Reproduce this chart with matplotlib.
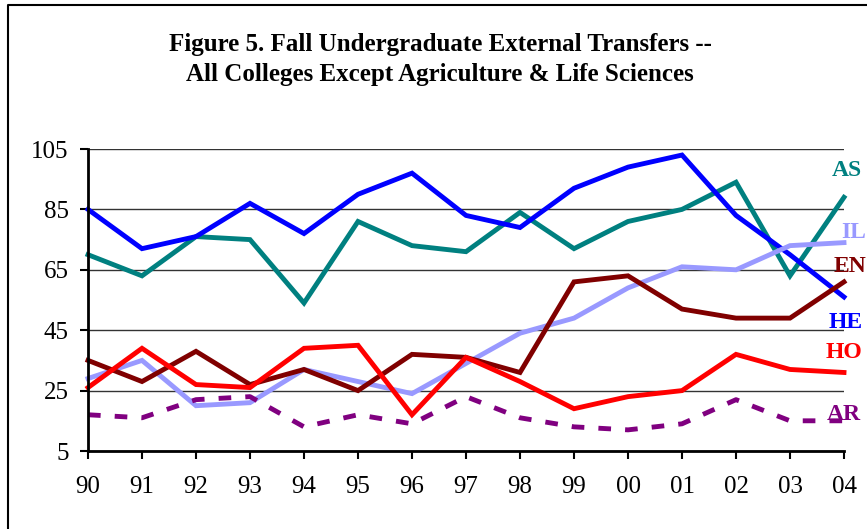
import matplotlib.pyplot as plt
from matplotlib.lines import Line2D

# Lata (etykiety osi X) i liczby przeniesień dla poszczególnych wydziałów.
LATA = ['90', '91', '92', '93', '94', '95', '96', '97', '98', '99',
        '00', '01', '02', '03', '04']
HE = [85, 72, 76, 87, 77, 90, 97, 83, 79, 92, 99, 103, 83, 70, 56]
AS = [70, 63, 76, 75, 54, 81, 73, 71, 84, 72, 81, 85, 94, 63, 89]
IL = [29, 35, 20, 21, 32, 28, 24, 34, 44, 49, 59, 66, 65, 73, 74]
EN = [35, 28, 38, 27, 32, 25, 37, 36, 31, 61, 63, 52, 49, 49, 61]
HO = [26, 39, 27, 26, 39, 40, 17, 36, 28, 19, 23, 25, 37, 32, 31]
AR = [17, 16, 22, 23, 13, 17, 14, 23, 16, 13, 12, 14, 22, 15, 15]

plt.rcParams['font.family'] = ['Liberation Serif', 'DejaVu Serif']

W, H = 867, 529
fig = plt.figure(figsize=(W / 100, H / 100), dpi=100)
ax = fig.add_axes([88 / W, 1 - 451 / H, (844 - 88) / W, (451 - 149) / H])

x = list(range(len(LATA)))
serie = [
    (AS, '#008080', '-', 'AS', 832, 170),
    (HE, '#0000FF', '-', 'HE', 829, 322),
    (IL, '#9999FF', '-', 'IL', 841, 232),
    (EN, '#800000', '-', 'EN', 834, 267),
    (HO, '#FF0000', '-', 'HO', 826, 352),
    (AR, '#800080', (0, (2.6, 2.9)), 'AR', 827, 415),
]
for wartości, kolor, styl, nazwa, px, py in serie:
    ax.plot(x, wartości, color=kolor, linestyle=styl, linewidth=3.5,
            solid_joinstyle='miter', clip_on=False)
    fig.text(px / W, 1 - py / H, nazwa, color=kolor, fontsize=17,
             fontweight='bold', ha='left', va='center')

ax.set_xlim(0, len(LATA) - 1)
ax.set_ylim(5, 105)
ax.set_yticks([5, 25, 45, 65, 85, 105])
ax.set_xticks(x)
ax.set_xticklabels(LATA)
ax.tick_params(labelsize=18, direction='out', length=6, width=1.5)
ax.tick_params(axis='y', pad=8)
ax.tick_params(axis='x', pad=12)
ax.yaxis.grid(True, color='#333333', linewidth=1)
ax.set_axisbelow(True)
for strona in ['top', 'right']:
    ax.spines[strona].set_visible(False)
for strona in ['left', 'bottom']:
    ax.spines[strona].set_linewidth(2)

fig.text(440 / W, 1 - 45 / H,
         'Figure 5. Fall Undergraduate External Transfers --',
         ha='center', va='center', fontsize=18, fontweight='bold')
fig.text(440 / W, 1 - 74 / H,
         'All Colleges Except Agriculture & Life Sciences',
         ha='center', va='center', fontsize=18, fontweight='bold')

# Ramka wykresu: widoczna tylko lewa i górna krawędź.
fig.add_artist(Line2D([8 / W, 8 / W, 1], [0, 1 - 5 / H, 1 - 5 / H],
                      transform=fig.transFigure, color='black', linewidth=1.5))

fig.savefig('out.png', dpi=100)
